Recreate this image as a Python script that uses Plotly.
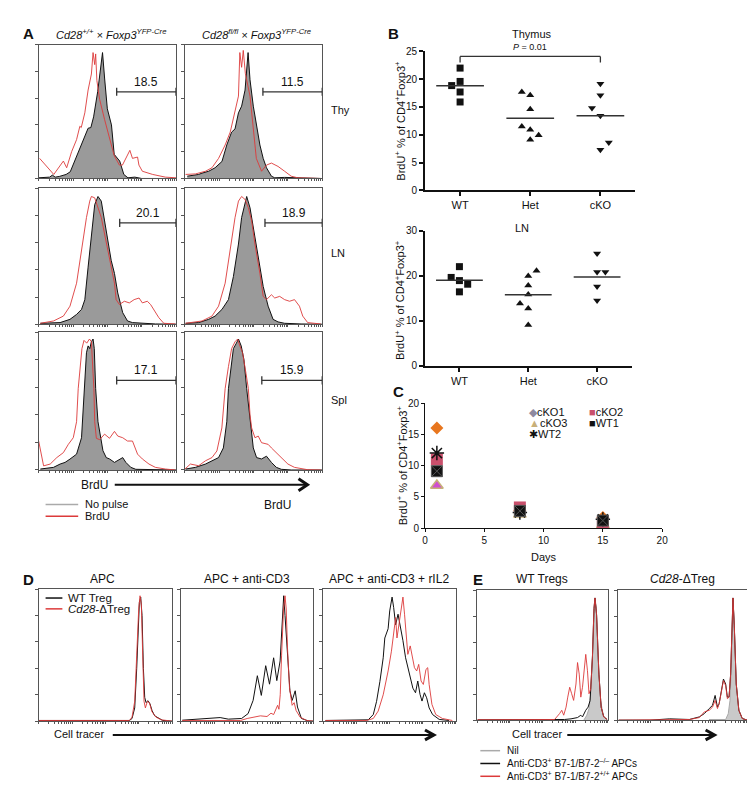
import numpy as np
import plotly.graph_objects as go

W, H = 755, 793
FONT = "Liberation Sans, Arial, Helvetica, sans-serif"
RED = "#dc3a3a"
BLACK = "#111111"
GREY_FILL = "#9a9a9a"
NIL_FILL = "#c9c9c9"
NIL_LINE = "#a8a8a8"
BOX = "#555555"

# ---- panel A histograms (x: % of box width, y: % of box height) ----
A_THY_WT_NOPULSE = [(0, 0.5), (8, 1), (10, 2.5), (12, 1), (15, 1.5), (20, 3), (23, 5), (27, 15), (31, 26), (35, 36),
                    (36, 37.5), (38, 38), (40, 46), (43, 65), (45, 82), (46.5, 94), (48, 75), (50, 52), (53, 40),
                    (55, 18), (59, 13), (62, 3), (65, 0.5), (70, 1), (75, 0), (100, 0)]
A_THY_WT_BRDU = [(0.7, 15), (11, 3), (18, 13), (20.4, 8), (24, 20), (27.6, 29), (30, 39), (31, 38), (33.6, 49),
                 (36, 66), (38.4, 78), (39.6, 94), (40.8, 85), (41.5, 93), (42.4, 73), (44.4, 59), (48, 44),
                 (51.6, 29), (55, 17), (58.8, 10), (61, 10), (64.7, 17.5), (66.4, 21), (68.3, 15), (72, 16),
                 (73, 10), (75.5, 5.4), (83, 3), (92.3, 1), (100, 0.5)]
A_THY_KO_NOPULSE = [(1.7, 1.7), (10, 3), (12.5, 4), (17.3, 5.4), (22, 8), (27, 12.7), (30.5, 25), (34, 34.6),
                    (36.5, 37), (39, 49), (41.3, 54), (43.8, 66), (46, 94), (47.4, 73.7), (49.8, 54), (52, 42),
                    (54.6, 25), (57, 15), (59.4, 8), (63, 1.7), (65.4, 0.5), (72.6, 0.8), (99, 0)]
A_THY_KO_BRDU = [(0.5, 3), (7.7, 3.4), (15, 5.4), (19.7, 8), (24.5, 15), (29.3, 25), (33, 34.6), (36.5, 49),
                 (39, 61.5), (40, 94), (41.3, 83), (42.5, 95.6), (44, 78.5), (47.4, 61.5), (49.8, 37), (52, 15),
                 (55.8, 5.4), (59.4, 10), (63, 11.5), (67.8, 9), (72.6, 5.4), (77.4, 1.7), (82.2, 0.5), (99, 0)]
A_LN_WT_NOPULSE = [(1.2, 0.7), (15.6, 1.2), (22.8, 3.6), (27.6, 7.2), (31.2, 10.9), (33.6, 18), (36, 42),
                   (38.4, 66), (40.8, 88), (43.2, 94), (45.6, 90.6), (48, 76), (50.4, 61.6), (52.8, 47),
                   (55.2, 37.4), (57.6, 23), (61.2, 8.5), (64.7, 2.4), (68.3, 1.2), (75.5, 0.7), (85.1, 0.2),
                   (100, 0)]
A_LN_WT_BRDU = [(1.2, 0.7), (10.8, 2.4), (18, 6), (22.8, 13.3), (27.6, 30.2), (31.2, 54.3), (34.8, 78.5),
                (37.2, 90.6), (38.4, 94), (40.8, 93), (43.2, 85.7), (45.6, 78.5), (48, 66.4), (50.4, 54.3),
                (52.8, 42.3), (55.2, 30.2), (56.4, 18.1), (58.8, 14.5), (62.4, 16.9), (66, 15.7), (69.5, 18.1),
                (73.1, 19.3), (75.5, 15.7), (79.1, 16.9), (81.5, 14.5), (83.9, 10.9), (87.5, 4.8), (91.1, 0.7),
                (99.5, 0.2)]
A_LN_KO_NOPULSE = [(0.5, 0.7), (10, 1.2), (17.3, 3.6), (22, 6), (27, 10.9), (31.7, 18.1), (35.3, 35), (39, 59),
                   (41.3, 78.5), (43.8, 90.6), (45, 94), (47.4, 85.7), (49.8, 71.3), (52.2, 56.8), (54.6, 42.3),
                   (57, 27.8), (60.6, 13.3), (64.2, 3.6), (67.8, 1.7), (72.6, 0.7), (84.6, 0.2), (100, 0)]
A_LN_KO_BRDU = [(0.5, 0.7), (12.5, 2.4), (19.7, 6), (24.5, 13.3), (29.3, 30.2), (33, 54.3), (36.5, 78.5),
                (39, 90.6), (41.3, 94), (43.8, 91.8), (46.2, 85.7), (48.6, 76), (51, 59), (54.6, 37.4),
                (57, 20.5), (59.4, 18.1), (63, 21.7), (65.4, 19.3), (69, 20.5), (72.6, 18.1), (76.2, 16.9),
                (79.8, 18.1), (83.4, 13.3), (85.8, 6), (89.4, 1.2), (99, 0.2)]
A_SPL_WT_NOPULSE = [(1.2, 0.7), (10.8, 1.9), (15.6, 4.3), (19.2, 5.5), (22.8, 7.9), (27.6, 11.5), (31.2, 23.4),
                    (32.4, 47), (33.6, 65), (34.8, 85), (36, 90), (37.2, 88), (38.4, 93), (39.6, 95), (40.5, 88),
                    (41, 70), (41.5, 59), (43.2, 35), (46.8, 14), (49.2, 9), (51.6, 8), (55.2, 5.5), (58.8, 8),
                    (61.2, 9), (63.5, 5.5), (67.1, 1.9), (70.7, 0.5), (100, 0)]
A_SPL_WT_BRDU = [(0, 21), (3.6, 3), (8.4, 4.3), (13.2, 9), (18, 12.6), (21.6, 18.6), (25.2, 23.4), (27.6, 35),
                 (28.8, 59), (30, 73), (31.5, 88), (33, 94), (35, 92), (37, 95), (38.4, 93), (39.6, 70),
                 (40.2, 59), (40.8, 35), (42, 23), (44.4, 22), (48, 26), (51.6, 23), (55.2, 28), (57.6, 24.6),
                 (61.2, 23.4), (64.7, 21), (68.3, 21), (72, 11.5), (75.5, 8), (80.3, 4.3), (85, 1.9),
                 (92.3, 0.7), (99.5, 0)]
A_SPL_KO_NOPULSE = [(0.5, 0.7), (7.7, 1.9), (15, 4.3), (19.7, 6.7), (24.5, 9), (28, 16), (30.5, 35), (31.7, 59),
                    (33.6, 75), (35.3, 88), (37.5, 92), (39, 95), (41, 90), (43, 80), (45, 59), (47.4, 35),
                    (49.8, 16), (52.2, 9), (55.8, 8), (59.4, 10), (63, 5.5), (66.6, 1.9), (70.2, 0.5), (77.4, 0),
                    (100, 0)]
A_SPL_KO_BRDU = [(0, 0.7), (4, 4.3), (10, 3.1), (15, 6.7), (19.7, 9), (23.3, 13.8), (26.9, 30.5), (29.3, 59),
                 (31.7, 75), (34, 88), (36.5, 93), (38.4, 95), (40, 90), (42, 85), (44.5, 70), (46.2, 59),
                 (47.4, 40), (48.6, 30.5), (51, 23.4), (53.4, 24.6), (55.8, 19.8), (60.6, 18.6), (63, 16),
                 (66.6, 12.6), (70.2, 9), (75, 4.3), (79.8, 1.9), (84.6, 1), (89.4, 0.2), (99, 0)]
A_GATES = ["18.5", "11.5", "20.1", "18.9", "17.1", "15.9"]

# ---- panel B ----
B_GROUPS = ["WT", "Het", "cKO"]
THY_WT = [22.0, 19.6, 18.85, 17.7, 15.9]
THY_HET = [17.7, 17.1, 14.6, 11.5, 10.9, 9.9, 9.1]
THY_CKO = [19.2, 17.1, 14.8, 13.4, 8.6, 7.3]
LN_WT = [22.0, 19.6, 18.9, 18.1, 16.4]
LN_HET = [21.1, 19.9, 17.8, 15.8, 13.8, 12.7, 9.0]
LN_CKO = [24.9, 20.8, 20.8, 17.6, 14.5]
# horizontal jitter of the dots (category units)
THY_WT_JIT = [0, 0, -0.12, 0, 0]
THY_HET_JIT = [-0.12, 0, 0, -0.12, 0, 0.12, 0]
THY_CKO_JIT = [0, 0, -0.12, 0, 0.12, 0]
LN_WT_JIT = [0, -0.12, 0, 0.12, 0]
LN_HET_JIT = [0.12, 0, 0, 0, -0.12, 0, 0]
LN_CKO_JIT = [0, 0, 0.12, 0, 0]

# ---- panel C ----
DAYS = [1, 8, 15]
C_CKO1 = [16.0, 2.8, 1.7]
C_CKO2 = [11.0, 3.3, 0.9]
C_CKO3 = [6.8, 2.2, 0.5]
C_WT1 = [9.1, 2.75, 1.2]
C_WT2 = [12.0, 2.5, 1.4]

# ---- panel D histograms ----
D_APC_WT = [(0, 0.5), (10, 0.5), (20, 1), (25, 0.5), (50, 0.5), (68, 0.5), (70, 2), (72, 10), (73.5, 40),
            (74.5, 70), (75.5, 90), (76.5, 94), (77.5, 80), (78.5, 40), (79.5, 18), (80.5, 14), (82, 15.5),
            (83.5, 13), (85, 8), (87, 4), (90, 2), (93, 0.5), (100, 0)]
D_APC_KO = [(0, 0.5), (68, 0.5), (70, 3), (72, 15), (73.5, 50), (75, 85), (76, 95), (77, 88), (78, 50),
            (79, 15), (80, 10), (81.5, 15), (83, 14), (85, 7), (88, 3), (92, 1), (100, 0)]
D_CD3_WT = [(1, 0.7), (21, 2), (29.6, 2.7), (35.8, 1.5), (45.8, 2), (50.7, 5.7), (54.5, 15.7), (57.7, 34.4),
            (60.7, 19.5), (64, 42), (66.9, 28), (70, 48), (72.4, 30.7), (74.9, 45.6), (76.6, 80), (77.6, 95),
            (78.6, 80), (80, 58), (82.3, 23), (84, 15.7), (86.3, 23), (88, 10.7), (91, 2), (96, 0.2), (100, 0)]
D_CD3_KO = [(1, 0.5), (45, 0.5), (50, 2), (55, 3), (60, 4), (65, 3.5), (68, 6), (70, 5), (72, 10), (73, 12),
            (74, 9), (75, 20), (76, 50), (77.5, 85), (78.6, 95), (79.5, 85), (80.5, 55), (82, 25), (84, 12),
            (85.5, 14), (87, 8), (90, 3), (95, 0.5), (100, 0)]
D_IL2_WT = [(1.7, 0.5), (25.4, 0.5), (34, 1), (37.8, 5), (40.3, 15), (42.8, 30), (45.3, 48), (46.5, 63),
            (49, 70), (50.2, 83.5), (52, 94), (53.2, 86), (54.7, 73), (56.5, 81), (58.2, 73), (60.2, 61),
            (62.2, 48), (64, 40.5), (65.7, 35.4), (67.7, 25), (69.7, 21.5), (71.4, 30.4), (73.1, 20.3),
            (74.6, 15.2), (76.4, 21.5), (78.1, 17.7), (80, 10), (82.6, 5), (87.6, 1.3), (95, 0.5)]
D_IL2_KO = [(1.7, 0.5), (32.8, 0.5), (37.8, 2), (41.5, 7.6), (45.3, 20), (49, 38), (51.5, 53), (53.2, 68),
            (54.7, 78.5), (55.7, 63), (57.2, 73), (59, 86), (60.2, 94), (61.4, 81), (62.7, 63), (63.9, 50.6),
            (65.7, 57), (67.2, 48), (68.9, 40.5), (70.6, 38), (72.1, 43), (73.9, 30.4), (75.6, 27.8),
            (77.6, 39.2), (78.9, 40.5), (80, 27.8), (82.1, 12.7), (85, 5), (90, 2), (97.5, 0.5)]

# ---- panel E histograms ----
E_WT_NIL = [(81.6, 0), (83.9, 3.8), (85.6, 8.9), (86.9, 20), (88.2, 48), (89.4, 86), (90.2, 94), (91.2, 86),
            (92.4, 48), (94.5, 15), (96.5, 3.8), (99, 0.5)]
E_WT_B7KO = [(0, 0.3), (61.7, 0.3), (66.8, 0.5), (71.8, 1), (76.8, 2), (79.3, 3.8), (80.6, 2.5), (83.1, 7.6),
             (84.9, 10), (86.4, 15), (88.2, 48), (89.4, 86), (90.2, 94), (91.4, 81), (93.2, 35.4), (94.9, 10),
             (96.9, 2.5), (99.5, 0.5)]
E_WT_B7WT = [(0, 0.3), (59.2, 0.5), (63, 5), (64.7, 7.6), (66.2, 3.8), (68, 10), (69.3, 17.7), (70.8, 25.3),
             (72.3, 20.3), (73.8, 15.2), (75.6, 27.8), (76.8, 44.3), (78.1, 35.4), (79.3, 17.7), (80.6, 25.3),
             (81.9, 40.5), (83.1, 50.6), (84.4, 38), (85.6, 20.3), (86.9, 24), (88.2, 48), (89.4, 86),
             (90.2, 94), (91.4, 81), (93.2, 35.4), (94.9, 10), (96.9, 2.5), (99.5, 0.5)]
E_KO_NIL = [(70, 0.5), (82.8, 0.5), (84.8, 5), (86.1, 15), (87.4, 48), (88.4, 94), (89.4, 73), (90.9, 27.8),
            (92.9, 7.6), (95.5, 1.3), (99.2, 0)]
E_KO_B7KO = [(0.8, 0), (24.7, 0), (39.9, 1), (55, 0.5), (62.6, 2.5), (66.4, 5), (70.2, 8.9), (72.7, 11.4),
             (74.7, 19), (76.5, 10), (77.8, 12.7), (79.8, 22.8), (81.1, 31.6), (82.8, 27.8), (84.1, 17.7),
             (85.4, 17.7), (86.6, 35.4), (88.4, 94), (89.4, 73), (90.9, 27.8), (92.9, 7.6), (95.5, 1.3),
             (99.2, 0)]
E_KO_B7WT = [(0.8, 0), (55, 0.5), (62.6, 2), (66.4, 6.3), (70.2, 7.6), (72.7, 10), (74.7, 15.2), (76.5, 8.9),
             (77.8, 12.7), (79.8, 25.3), (81.1, 30.4), (82.8, 26.6), (84.1, 16.5), (85.4, 17.7), (86.6, 35.4),
             (88.4, 94), (89.4, 73), (90.9, 27.8), (92.9, 7.6), (95.5, 1.3), (99.2, 0)]


def px(x):
    return x / W


def py(y):
    return 1 - y / H


def aid(n):
    return ("" if n == 1 else str(n))


fig = go.Figure()
layout = {}
shapes = []
annots = []

LOG_TICKS = [d * 25 + 25 * np.log10(k) for d in range(4) for k in range(1, 10)] + [100]


def hist_box(n, x0, y0, x1, y1):
    layout["xaxis" + aid(n)] = dict(domain=[px(x0), px(x1)], anchor="y" + aid(n), range=[0, 100],
                                    showline=True, mirror=True, linecolor=BOX, linewidth=1, ticks="outside",
                                    ticklen=2, tickcolor=BOX, tickvals=LOG_TICKS, showticklabels=False,
                                    showgrid=False, zeroline=False, fixedrange=True)
    layout["yaxis" + aid(n)] = dict(domain=[py(y1), py(y0)], anchor="x" + aid(n), range=[0, 100],
                                    showline=True, mirror=True, linecolor=BOX, linewidth=1, ticks="outside",
                                    ticklen=3, tickcolor=BOX, tickvals=[0, 20, 40, 60, 80, 100],
                                    showticklabels=False, showgrid=False, zeroline=False, fixedrange=True)


def curve(n, pts, color, fill=None, width=1):
    fig.add_trace(go.Scatter(
        x=[p[0] for p in pts], y=[p[1] for p in pts], mode="lines",
        line=dict(color=color, width=width),
        fill="tozeroy" if fill else None, fillcolor=fill,
        xaxis="x" + aid(n), yaxis="y" + aid(n), showlegend=False, hoverinfo="skip"))


def txt(x, y, s, size=11, anchor="center", **kw):
    annots.append(dict(x=px(x), y=py(y), xref="paper", yref="paper", text=s, showarrow=False,
                       xanchor=anchor, yanchor="middle", font=dict(size=size, color=BLACK, family=FONT), **kw))


def hline(x0, x1, y, color=BLACK, width=1.5):
    shapes.append(dict(type="line", xref="paper", yref="paper", x0=px(x0), x1=px(x1), y0=py(y), y1=py(y),
                       line=dict(color=color, width=width)))


def arrow(x0, x1, y, h=6):
    hline(x0, x1, y, width=2)
    shapes.append(dict(type="path", xref="paper", yref="paper",
                       path=f"M {px(x1 - 9)} {py(y - h)} L {px(x1)} {py(y)} L {px(x1 - 9)} {py(y + h)}",
                       line=dict(color=BLACK, width=3)))


# ---------------- panel A ----------------
A_BOXES = [(28, 31, 167, 167), (176, 31, 315, 167), (28, 177, 167, 315),
           (176, 177, 315, 315), (28, 323, 167, 463), (176, 323, 315, 463)]
A_CURVES = [(A_THY_WT_NOPULSE, A_THY_WT_BRDU), (A_THY_KO_NOPULSE, A_THY_KO_BRDU),
            (A_LN_WT_NOPULSE, A_LN_WT_BRDU), (A_LN_KO_NOPULSE, A_LN_KO_BRDU),
            (A_SPL_WT_NOPULSE, A_SPL_WT_BRDU), (A_SPL_KO_NOPULSE, A_SPL_KO_BRDU)]
GATE_START = [56.8, 56.8, 59, 58.3, 56.8, 56]
GATE_Y = [64.7, 64.7, 74.6, 74.6, 65, 65]
for i, (box, (grey, red)) in enumerate(zip(A_BOXES, A_CURVES)):
    n = i + 1
    hist_box(n, *box)
    curve(n, grey, BLACK, fill=GREY_FILL)
    curve(n, red, RED, width=0.9)
    g0, gy = GATE_START[i], GATE_Y[i]
    xr, yr = "x" + aid(n), "y" + aid(n)
    shapes.append(dict(type="line", xref=xr, yref=yr, x0=g0, x1=100, y0=gy, y1=gy,
                       line=dict(color="#333", width=1.3)))
    for gx in (g0, 100):
        shapes.append(dict(type="line", xref=xr, yref=yr, x0=gx, x1=gx, y0=gy - 3, y1=gy + 3,
                           line=dict(color="#333", width=1.3)))
    annots.append(dict(x=(g0 + 100) / 2, y=gy, xref=xr, yref=yr, text=A_GATES[i], showarrow=False,
                       yanchor="bottom", yshift=1, font=dict(size=12, color=BLACK, family=FONT)))

txt(18, 20, "<b>A</b>", size=15)
txt(101, 20, "<i>Cd28<sup>+/+</sup> × Foxp3<sup>YFP-Cre</sup></i>", size=11)
txt(248, 20, "<i>Cd28<sup>fl/fl</sup> × Foxp3<sup>YFP-Cre</sup></i>", size=11)
txt(322, 97, "Thy", size=11, anchor="left")
txt(322, 243, "LN", size=11, anchor="left")
txt(322, 392, "Spl", size=11, anchor="left")
txt(85, 478, "BrdU", size=12)
arrow(105, 300, 478)
txt(270, 499, "BrdU", size=12)
hline(35, 68, 498, color="#aaaaaa", width=1.5)
hline(35, 68, 510, color=RED, width=1.5)
txt(73, 498, "No pulse", size=11, anchor="left")
txt(73, 510, "BrdU", size=11, anchor="left")


# ---------------- panel B ----------------
def dot_axes(n, x0, y0, x1, y1, ymax, dtick):
    layout["xaxis" + aid(n)] = dict(domain=[px(x0), px(x1)], anchor="y" + aid(n), range=[-0.5, 2.5],
                                    showline=True, linecolor=BLACK, linewidth=2, ticks="outside", ticklen=4,
                                    tickwidth=2, tickcolor=BLACK, tickvals=[0, 1, 2], ticktext=B_GROUPS,
                                    tickfont=dict(size=11, family=FONT, color=BLACK), showgrid=False,
                                    zeroline=False, fixedrange=True)
    layout["yaxis" + aid(n)] = dict(domain=[py(y1), py(y0)], anchor="x" + aid(n), range=[0, ymax],
                                    showline=True, linecolor=BLACK, linewidth=2, ticks="outside", ticklen=4,
                                    tickwidth=2, tickcolor=BLACK, dtick=dtick,
                                    tickfont=dict(size=10, family=FONT, color=BLACK), showgrid=False,
                                    zeroline=False, fixedrange=True)


def dot_group(n, i, vals, jit, symbol):
    fig.add_trace(go.Scatter(x=[i + j for j in jit], y=vals, mode="markers",
                             marker=dict(symbol=symbol, size=7, color=BLACK),
                             xaxis="x" + aid(n), yaxis="y" + aid(n), showlegend=False, cliponaxis=False))
    m = float(np.mean(vals))
    fig.add_trace(go.Scatter(x=[i - 0.34, i + 0.34], y=[m, m], mode="lines",
                             line=dict(color="#333", width=1.5),
                             xaxis="x" + aid(n), yaxis="y" + aid(n), showlegend=False))


dot_axes(7, 419, 38, 632, 179, 25, 5)
dot_group(7, 0, THY_WT, THY_WT_JIT, "square")
dot_group(7, 1, THY_HET, THY_HET_JIT, "triangle-up")
dot_group(7, 2, THY_CKO, THY_CKO_JIT, "triangle-down")
for sx0, sx1, sy0, sy1 in [(0, 2, 24.1, 24.1), (0, 0, 24.1, 23.0), (2, 2, 24.1, 23.0)]:
    shapes.append(dict(type="line", xref="x7", yref="y7", x0=sx0, x1=sx1, y0=sy0, y1=sy1,
                       line=dict(color="#333", width=1.3)))
annots.append(dict(x=1, y=24.1, xref="x7", yref="y7", text="<i>P</i> = 0.01", showarrow=False,
                   yanchor="bottom", yshift=2, font=dict(size=9, color=BLACK, family=FONT)))

dot_axes(8, 419, 220, 628, 357, 30, 10)
dot_group(8, 0, LN_WT, LN_WT_JIT, "square")
dot_group(8, 1, LN_HET, LN_HET_JIT, "triangle-up")
dot_group(8, 2, LN_CKO, LN_CKO_JIT, "triangle-down")

YT = "BrdU<sup>+</sup> % of CD4<sup>+</sup>Foxp3<sup>+</sup>"
txt(387, 20, "<b>B</b>", size=15)
txt(527, 20, "Thymus", size=11)
txt(517, 217, "LN", size=11)
txt(394, 108, YT, size=11, textangle=-90)
txt(393, 290, YT, size=11, textangle=-90)

# ---------------- panel C ----------------
layout["xaxis9"] = dict(domain=[px(419), px(659)], anchor="y9", range=[0, 20], dtick=5, showline=True,
                        linecolor=BLACK, linewidth=1, ticks="outside", ticklen=3, tickcolor=BLACK,
                        tickfont=dict(size=10, family=FONT, color=BLACK), showgrid=False, zeroline=False,
                        fixedrange=True)
layout["yaxis9"] = dict(domain=[py(522), py(395)], anchor="x9", range=[0, 20], dtick=5, showline=True,
                        linecolor=BLACK, linewidth=1, ticks="outside", ticklen=3, tickcolor=BLACK,
                        tickfont=dict(size=10, family=FONT, color=BLACK), showgrid=False, zeroline=False,
                        fixedrange=True)
C_SERIES = [
    (C_CKO1, dict(symbol="diamond", size=10, color="#e8761e")),
    (C_CKO3, dict(symbol="triangle-up", size=11, color="#d04fd0", line=dict(color="#c8b07a", width=1.5))),
    (C_CKO2, dict(symbol="square", size=12, color="#c9506c")),
    (C_WT2, dict(symbol="asterisk", size=12, color=BLACK, line=dict(color=BLACK, width=1.5))),
    (C_WT1, dict(symbol="square-x", size=11, color=BLACK, line=dict(color="#555", width=1))),
]
for vals, mk in C_SERIES:
    fig.add_trace(go.Scatter(x=DAYS, y=vals, mode="markers", marker=mk, xaxis="x9", yaxis="y9",
                             showlegend=False, cliponaxis=False))
txt(392, 383, "<b>C</b>", size=15)
txt(396, 458, YT, size=11, textangle=-90)
txt(539, 551, "Days", size=11)
txt(522, 404, "<span style='color:#8e8aa0'>◆</span>cKO1", size=11, anchor="left")
txt(583, 404, "<span style='color:#c9506c'>■</span>cKO2", size=11, anchor="left")
txt(522, 415, "<span style='color:#c8b07a'>▲</span>cKO3", size=11, anchor="left")
txt(583, 415, "<span style='color:#111'>■</span>WT1", size=11, anchor="left")
txt(522, 426, "✱WT2", size=11, anchor="left")

# ---------------- panel D ----------------
D_BOXES = [(28, 584, 163, 718), (172, 584, 306, 718), (316, 584, 450, 718)]
D_CURVES = [(D_APC_WT, D_APC_KO), (D_CD3_WT, D_CD3_KO), (D_IL2_WT, D_IL2_KO)]
for i, (box, (wt, ko)) in enumerate(zip(D_BOXES, D_CURVES)):
    n = 10 + i
    hist_box(n, *box)
    curve(n, wt, BLACK)
    curve(n, ko, RED, width=0.9)
txt(18, 574, "<b>D</b>", size=15)
txt(93, 574, "APC", size=12)
txt(239, 574, "APC + anti-CD3", size=12)
txt(383, 574, "APC + anti-CD3 + rIL2", size=12)
hline(35, 52, 593, color=BLACK, width=1.5)
hline(35, 52, 604, color=RED, width=1.5)
txt(56, 593, "WT Treg", size=11.5, anchor="left")
txt(56, 604, "<i>Cd28</i>-ΔTreg", size=11.5, anchor="left")
txt(69, 731, "Cell tracer", size=11)
arrow(103, 428, 732, h=5)

# ---------------- panel E ----------------
E_BOXES = [(472, 585, 604, 717), (614, 585, 746, 717)]
E_CURVES = [(E_WT_NIL, E_WT_B7KO, E_WT_B7WT), (E_KO_NIL, E_KO_B7KO, E_KO_B7WT)]
for i, (box, (nil, b7ko, b7wt)) in enumerate(zip(E_BOXES, E_CURVES)):
    n = 13 + i
    hist_box(n, *box)
    curve(n, nil, NIL_LINE, fill=NIL_FILL)
    curve(n, b7ko, BLACK)
    curve(n, b7wt, RED, width=0.9)
txt(473, 574, "<b>E</b>", size=15)
txt(537, 574, "WT Tregs", size=12)
txt(680, 574, "<i>Cd28</i>-ΔTreg", size=12)
txt(532, 731, "Cell tracer", size=11)
arrow(563, 712, 732, h=5)
hline(475, 495, 748, color="#aaaaaa", width=1.5)
hline(475, 495, 761, color=BLACK, width=1.5)
hline(475, 495, 774, color=RED, width=1.5)
txt(500, 748, "Nil", size=10, anchor="left")
txt(500, 761, "Anti-CD3<sup>+</sup> B7-1/B7-2<sup>–/–</sup> APCs", size=10, anchor="left")
txt(500, 774, "Anti-CD3<sup>+</sup> B7-1/B7-2<sup>+/+</sup> APCs", size=10, anchor="left")

fig.update_layout(
    width=W, height=H, autosize=False,
    margin=dict(l=0, r=0, t=0, b=0),
    paper_bgcolor="white", plot_bgcolor="white",
    font=dict(family=FONT, color=BLACK),
    showlegend=False,
    shapes=shapes, annotations=annots,
    **layout,
)
fig.write_html("out.html")
